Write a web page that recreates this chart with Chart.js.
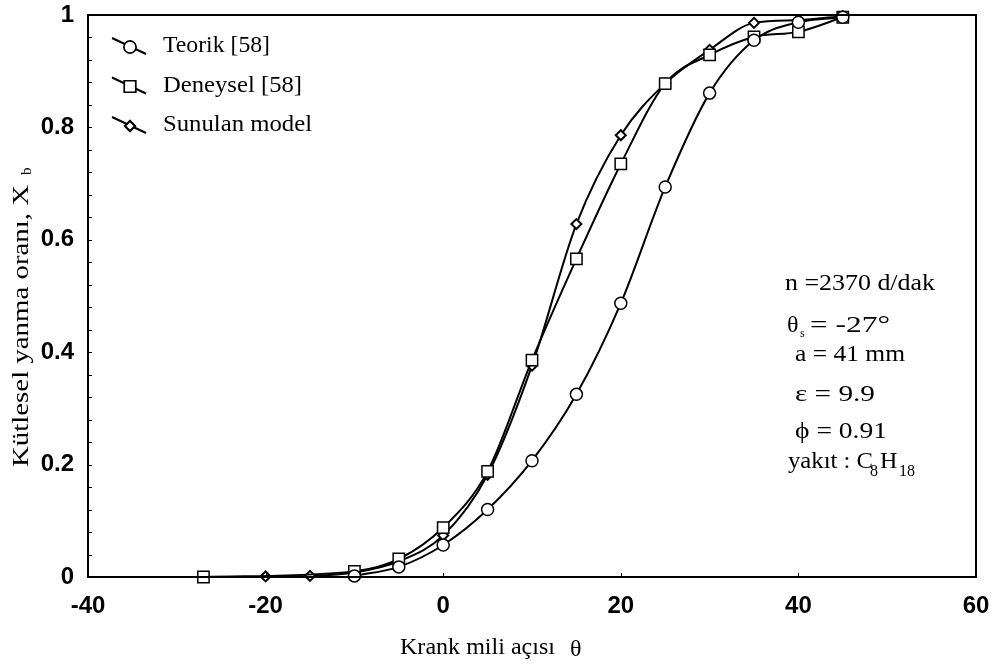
<!DOCTYPE html>
<html>
<head>
<meta charset="utf-8">
<script src="https://cdn.jsdelivr.net/npm/chart.js@4"></script>
<style>
  html, body { margin: 0; padding: 0; background: #fff; }
  #wrap { width: 996px; height: 666px; }
</style>
</head>
<body>
<div id="wrap"><canvas id="chart" width="996" height="666"></canvas></div>
<script>
// crank angle (deg) and burned mass fraction
const angles   = [-27, -20, -15, -10, -5, 0, 5, 10, 15, 20, 25, 30, 35, 40, 45];
const teorik   = [null, null, null, 0.002, 0.018, 0.057, 0.12, 0.207, 0.325, 0.487, 0.694, 0.861, 0.955, 0.987, 0.996];
const deneysel = [0, null, null, 0.01, 0.032, 0.088, 0.188, 0.386, 0.566, 0.735, 0.878, 0.929, 0.961, 0.97, 0.996];
const sunulan  = [null, 0.001, 0.002, 0.008, 0.028, 0.074, 0.182, 0.376, 0.628, 0.786, 0.878, 0.938, 0.986, 0.991, 0.998];
const xTicks = [-40, -20, 0, 20, 40, 60];
const seriesNames = ['Teorik [58]', 'Deneysel [58]', 'Sunulan model'];

const serif = '"Liberation Serif", "DejaVu Serif", serif';
const sans = '"Liberation Sans", Arial, sans-serif';

function toPoints(ys) {
    return angles.map((a, i) => ({ x: a, y: ys[i] }));
}

function makeSet(label, ys, style, radius, bw) {
    return {
        label: label,
        data: toPoints(ys),
        borderColor: '#000',
        borderWidth: 2,
        backgroundColor: '#fff',
        pointStyle: style,
        pointRadius: radius,
        pointBorderWidth: bw,
        pointBorderColor: '#000',
        pointBackgroundColor: '#fff',
        cubicInterpolationMode: 'monotone',
        spanGaps: true,
        clip: false
    };
}

// draw text stretched to a given width (the scan is a bit wide)
function fitText(ctx, text, x, y, width) {
    const w = ctx.measureText(text).width;
    ctx.save();
    ctx.translate(x, y);
    ctx.scale(width / w, 1);
    ctx.fillText(text, 0, 0);
    ctx.restore();
}

const decor = {
    id: 'decor',
    afterDraw(c) {
        const ctx = c.ctx;
        const a = c.chartArea;
        const xs = c.scales.x, ys = c.scales.y;
        ctx.save();
        ctx.strokeStyle = '#000';
        ctx.lineWidth = 2;
        ctx.strokeRect(a.left, a.top, a.right - a.left, a.bottom - a.top);

        // small ticks on the axes
        ctx.lineWidth = 1;
        for (let v = 0; v <= 1.0001; v += 0.04) {
            const py = Math.round(ys.getPixelForValue(v)) + 0.5;
            ctx.beginPath();
            ctx.moveTo(a.left, py);
            ctx.lineTo(a.left + 4, py);
            ctx.stroke();
        }
        xTicks.forEach(t => {
            const px = Math.round(xs.getPixelForValue(t)) + 0.5;
            ctx.beginPath();
            ctx.moveTo(px, a.bottom);
            ctx.lineTo(px, a.bottom - 4);
            ctx.stroke();
        });

        // legend
        const styles = ['circle', 'rect', 'rectRot'];
        const radii = [6, 8, 5];
        const widths = [1.5, 1.5, 2];
        const legW = [107, 139, 149];
        ctx.font = '23px ' + serif;
        ctx.textBaseline = 'middle';
        seriesNames.forEach((name, i) => {
            const y0 = 46 + i * 39.5;
            ctx.lineWidth = 2;
            ctx.beginPath();
            ctx.moveTo(112, y0 - 8);
            ctx.lineTo(146, y0 + 8);
            ctx.stroke();
            ctx.lineWidth = widths[i];
            ctx.fillStyle = '#fff';
            Chart.helpers.drawPoint(ctx, { pointStyle: styles[i], radius: radii[i], borderWidth: widths[i] }, 130, y0 + 1);
            ctx.fill();
            ctx.stroke();
            ctx.fillStyle = '#000';
            fitText(ctx, name, 163, y0, legW[i]);
        });

        // parameters
        ctx.fillStyle = '#000';
        ctx.font = '24px ' + serif;
        fitText(ctx, 'n =2370 d/dak', 785, 284, 150);
        ctx.fillText('\u03B8', 787, 326);
        ctx.font = '12px ' + serif;
        ctx.fillText('s', 800, 334);
        ctx.font = '24px ' + serif;
        fitText(ctx, '= -27\u00B0', 810, 326, 80);
        fitText(ctx, 'a = 41 mm', 795, 355, 110);
        fitText(ctx, '\u03B5 = 9.9', 795, 395, 80);
        fitText(ctx, '\u03D5 = 0.91', 795, 432, 92);
        fitText(ctx, 'yak\u0131t : C', 788, 462, 85);
        ctx.font = '16px ' + serif;
        ctx.fillText('8', 870, 472);
        ctx.font = '24px ' + serif;
        ctx.fillText('H', 880, 462);
        ctx.font = '16px ' + serif;
        ctx.fillText('18', 899, 472);

        // axis titles
        ctx.font = '24px ' + serif;
        fitText(ctx, 'Krank mili a\u00E7\u0131s\u0131', 400, 648, 155);
        ctx.fillText('\u03B8', 570, 650);
        ctx.translate(22, 467);
        ctx.rotate(-Math.PI / 2);
        fitText(ctx, 'K\u00FCtlesel yanma oran\u0131, X', 0, 0, 282);
        ctx.font = '15px ' + serif;
        ctx.fillText('b', 292, 5);
        ctx.restore();
    }
};

const ctx = document.getElementById('chart').getContext('2d');
const chart = new Chart(ctx, {
    type: 'line',
    data: {
        datasets: [
            makeSet(seriesNames[0], teorik, 'circle', 6, 1.5),
            makeSet(seriesNames[1], deneysel, 'rect', 8, 1.5),
            makeSet(seriesNames[2], sunulan, 'rectRot', 5, 2)
        ]
    },
    options: {
        responsive: false,
        animation: false,
        layout: { padding: { left: 0, right: 20, top: 15, bottom: 0 } },
        plugins: {
            legend: { display: false },
            tooltip: { enabled: false }
        },
        scales: {
            x: {
                type: 'linear',
                min: -40,
                max: 60,
                afterBuildTicks: s => { s.ticks = xTicks.map(v => ({ value: v })); },
                grid: { display: false },
                border: { display: true, color: '#000', width: 2 },
                ticks: {
                    color: '#000',
                    padding: 7,
                    font: { family: sans, size: 24, weight: 'bold' }
                },
                afterFit: s => {
                    s.height = 89;
                    s.paddingLeft = 0;
                    s.paddingRight = 0;
                }
            },
            y: {
                min: 0,
                max: 1,
                ticks: {
                    stepSize: 0.2,
                    color: '#000',
                    padding: 6,
                    font: { family: sans, size: 24, weight: 'bold' },
                    callback: v => (v === 0 || v === 1) ? String(v) : v.toFixed(1)
                },
                grid: { display: false },
                border: { display: true, color: '#000', width: 2 },
                afterFit: s => {
                    s.width = 88;
                    s.paddingTop = 0;
                    s.paddingBottom = 0;
                }
            }
        }
    },
    plugins: [decor]
});
</script>
</body>
</html>
